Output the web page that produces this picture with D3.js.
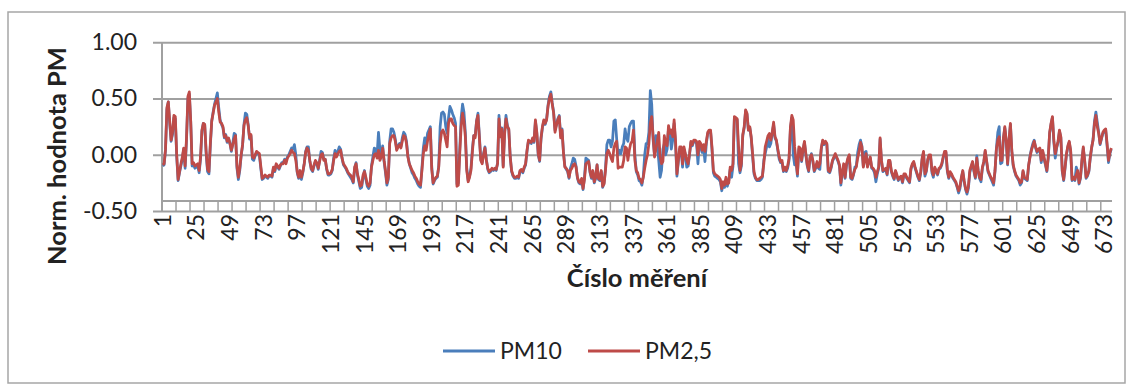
<!DOCTYPE html>
<html>
<head>
<meta charset="utf-8">
<script src="https://cdn.jsdelivr.net/npm/d3@7"></script>
<style>
  body { margin: 0; background: #fff; }
  text { font-family: Lato, "Open Sans", sans-serif; fill: #222; }
</style>
</head>
<body>
<div id="chart"><svg width="1132" height="385"></svg></div>
<script>

var pm25 = [
  -0.09,-0.08,0.05,0.42,0.47,0.30,0.13,0.20,0.35,0.34,
  0.00,-0.22,-0.15,-0.08,-0.02,0.06,-0.10,0.15,0.52,0.56,
  0.30,-0.08,-0.07,-0.10,-0.09,-0.08,-0.14,-0.02,0.22,0.28,
  0.27,0.03,-0.13,-0.15,0.10,0.30,0.37,0.44,0.47,0.50,
  0.38,0.29,0.28,0.25,0.16,0.17,0.12,0.15,0.10,0.04,
  0.09,0.14,0.17,-0.10,-0.20,-0.12,0.00,0.09,0.26,0.31,
  0.33,0.26,0.15,0.18,-0.02,-0.03,0.00,0.03,0.02,0.01,
  -0.10,-0.21,-0.20,-0.18,-0.19,-0.20,-0.18,-0.18,-0.19,-0.11,
  -0.14,-0.08,-0.10,-0.12,-0.09,-0.08,-0.08,-0.05,-0.08,-0.03,
  -0.01,0.01,0.04,0.02,0.01,-0.05,-0.15,-0.20,-0.14,-0.20,
  -0.15,-0.08,0.02,0.06,0.04,-0.05,-0.12,-0.14,-0.09,-0.05,
  -0.07,-0.12,-0.06,0.00,0.01,-0.05,-0.04,-0.12,-0.17,-0.17,
  -0.16,-0.13,-0.05,0.01,-0.02,0.01,0.03,0.04,-0.03,-0.08,
  -0.10,-0.12,-0.15,-0.17,-0.18,-0.20,-0.24,-0.11,-0.08,-0.17,
  -0.22,-0.28,-0.27,-0.18,-0.15,-0.20,-0.26,-0.28,-0.25,-0.11,
  -0.05,0.00,0.01,-0.03,0.04,-0.05,-0.02,0.06,-0.05,-0.14,
  -0.25,-0.20,0.10,0.15,0.17,0.17,0.12,0.04,0.07,0.09,
  0.06,0.12,0.17,0.16,0.10,-0.02,-0.08,-0.11,-0.14,-0.16,
  -0.19,-0.21,-0.24,-0.26,-0.27,-0.14,0.01,0.08,0.04,0.12,
  0.18,0.23,-0.13,-0.25,-0.22,-0.20,-0.19,-0.11,0.10,0.20,
  0.22,0.19,0.13,0.07,0.28,0.32,0.32,0.28,0.26,0.25,
  -0.28,-0.27,0.01,0.25,0.37,0.30,0.16,-0.14,-0.24,-0.20,
  -0.14,0.02,0.17,0.15,0.30,0.35,0.15,-0.05,-0.08,0.00,
  0.06,-0.05,-0.12,-0.15,-0.14,-0.12,-0.13,-0.12,-0.13,-0.08,
  0.32,0.16,0.23,-0.11,0.18,0.32,0.25,0.23,-0.02,-0.14,
  -0.18,-0.20,-0.20,-0.19,-0.20,-0.14,-0.13,-0.15,-0.11,-0.08,
  0.04,0.13,0.12,0.11,0.15,0.12,0.31,0.20,0.01,-0.05,
  0.15,0.25,0.31,0.28,0.31,0.43,0.50,0.54,0.45,0.37,
  0.20,0.26,0.31,0.34,0.15,0.22,0.02,-0.11,-0.12,-0.14,
  -0.20,-0.14,-0.12,-0.09,-0.08,-0.11,-0.20,-0.24,-0.25,-0.21,
  -0.30,-0.22,-0.08,-0.07,-0.06,-0.15,-0.20,-0.14,-0.24,-0.20,
  -0.09,-0.21,-0.22,-0.14,-0.28,-0.26,-0.14,0.01,0.04,0.01,
  -0.03,-0.06,0.06,0.10,0.12,-0.12,-0.11,-0.11,-0.11,-0.05,
  0.07,0.06,-0.05,0.04,0.10,0.12,0.22,-0.05,-0.14,-0.16,
  -0.21,-0.22,-0.25,-0.20,-0.12,-0.05,0.00,0.10,0.28,0.34,
  0.16,-0.02,0.05,0.12,0.20,-0.02,-0.08,-0.06,0.17,0.10,
  0.08,0.26,0.19,0.22,0.16,0.31,0.13,-0.17,-0.05,0.07,
  0.07,-0.08,0.07,0.01,-0.05,-0.08,0.01,0.12,0.09,0.13,
  0.13,0.12,0.00,0.12,0.10,0.04,0.09,0.03,0.12,0.20,
  0.22,0.22,0.07,-0.14,-0.17,-0.18,-0.19,-0.20,-0.22,-0.30,
  -0.24,-0.27,-0.20,-0.26,-0.25,-0.11,-0.14,-0.08,0.34,0.33,
  0.32,0.07,-0.14,-0.08,0.18,0.25,0.40,0.37,0.22,0.25,
  0.16,0.01,-0.15,-0.20,-0.22,-0.22,-0.21,-0.20,-0.19,-0.08,
  0.07,0.12,0.17,0.19,0.13,0.20,0.29,0.16,0.13,0.05,
  -0.02,-0.06,-0.05,-0.14,-0.11,-0.14,-0.10,-0.03,0.25,0.35,
  0.31,0.07,-0.05,-0.17,0.07,0.06,-0.05,0.05,0.12,0.01,
  -0.09,-0.14,-0.02,0.00,-0.05,-0.14,-0.11,-0.06,-0.11,-0.08,
  0.06,0.13,0.10,0.12,0.10,-0.14,-0.15,-0.11,-0.05,-0.02,
  0.01,-0.02,-0.05,-0.09,-0.25,-0.15,-0.08,-0.20,-0.08,-0.03,
  0.00,-0.20,-0.21,-0.17,-0.13,-0.11,-0.03,0.03,0.11,0.07,
  -0.11,-0.05,0.01,-0.11,-0.06,-0.02,-0.11,-0.12,-0.14,-0.20,
  -0.15,-0.11,0.15,-0.05,-0.14,-0.13,-0.12,-0.17,-0.05,-0.05,
  -0.14,-0.18,-0.21,-0.14,-0.18,-0.22,-0.20,-0.19,-0.24,-0.17,
  -0.17,-0.20,-0.22,-0.24,-0.12,-0.08,-0.06,-0.11,-0.15,-0.19,
  -0.22,-0.15,-0.03,0.03,-0.17,-0.14,-0.04,0.00,0.00,-0.14,
  -0.18,-0.11,-0.14,-0.17,-0.12,-0.11,-0.08,-0.02,0.03,0.03,
  -0.14,-0.20,-0.15,-0.17,-0.20,-0.22,-0.24,-0.28,-0.32,-0.28,
  -0.20,-0.14,-0.23,-0.30,-0.33,-0.28,-0.14,-0.10,-0.06,-0.14,
  -0.20,-0.03,-0.14,-0.20,-0.22,-0.11,-0.06,0.04,-0.05,-0.14,
  -0.17,-0.20,-0.22,-0.25,-0.14,0.05,0.13,0.16,-0.05,-0.05,
  0.15,0.25,0.13,-0.08,0.13,0.28,0.04,-0.09,-0.14,-0.18,
  -0.20,-0.22,-0.25,-0.24,-0.14,-0.20,-0.21,-0.22,-0.09,-0.02,
  0.04,0.08,0.12,0.07,0.03,0.05,0.06,-0.05,0.04,-0.02,
  -0.08,-0.14,-0.02,0.20,0.28,0.34,0.13,0.01,0.07,0.12,
  0.22,0.16,-0.14,-0.22,-0.11,0.01,0.08,0.12,0.04,-0.22,
  -0.20,-0.22,-0.18,-0.14,-0.25,-0.20,-0.05,0.07,-0.05,-0.20,
  -0.18,-0.14,-0.02,0.07,0.13,0.28,0.35,0.25,0.19,0.10,
  0.15,0.20,0.22,0.23,0.10,-0.05,0.02,0.06
];

var pm10 = [
  -0.10,-0.09,0.04,0.40,0.47,0.28,0.12,0.18,0.33,0.32,
  -0.02,-0.23,-0.16,-0.10,-0.04,0.05,-0.12,0.13,0.50,0.54,
  0.29,-0.10,-0.09,-0.12,-0.11,-0.10,-0.16,-0.04,0.21,0.28,
  0.26,0.01,-0.15,-0.17,0.08,0.30,0.38,0.45,0.50,0.55,
  0.42,0.31,0.27,0.24,0.15,0.18,0.11,0.14,0.10,0.03,
  0.10,0.19,0.18,-0.12,-0.22,-0.14,-0.01,0.08,0.27,0.37,
  0.36,0.27,0.14,0.17,-0.04,-0.05,-0.01,0.02,0.01,0.00,
  -0.12,-0.22,-0.21,-0.19,-0.20,-0.21,-0.19,-0.19,-0.20,-0.12,
  -0.15,-0.09,-0.11,-0.13,-0.10,-0.07,-0.07,-0.04,-0.06,-0.02,
  0.00,0.03,0.06,0.05,0.09,0.00,-0.16,-0.21,-0.16,-0.22,
  -0.16,-0.08,0.03,0.07,0.07,-0.06,-0.13,-0.15,-0.10,-0.06,
  -0.08,-0.13,-0.05,0.03,0.02,-0.04,-0.04,-0.13,-0.18,-0.18,
  -0.17,-0.14,-0.03,0.04,0.00,0.03,0.07,0.05,-0.03,-0.09,
  -0.11,-0.13,-0.16,-0.18,-0.20,-0.22,-0.25,-0.12,-0.07,-0.18,
  -0.24,-0.30,-0.29,-0.20,-0.14,-0.22,-0.28,-0.30,-0.27,-0.10,
  -0.02,0.06,0.05,0.00,0.20,0.05,0.01,0.08,-0.06,-0.16,
  -0.27,-0.22,0.12,0.23,0.23,0.20,0.14,0.05,0.08,0.10,
  0.07,0.15,0.20,0.18,0.12,-0.01,-0.08,-0.12,-0.16,-0.18,
  -0.21,-0.23,-0.26,-0.28,-0.29,-0.12,0.06,0.15,0.08,0.19,
  0.22,0.25,-0.10,-0.26,-0.23,-0.21,-0.20,-0.10,0.25,0.37,
  0.38,0.36,0.25,0.19,0.33,0.43,0.40,0.36,0.33,0.28,
  -0.26,-0.25,0.05,0.33,0.45,0.38,0.20,-0.12,-0.23,-0.19,
  -0.12,0.05,0.17,0.17,0.30,0.37,0.17,-0.04,-0.07,0.01,
  0.07,-0.04,-0.13,-0.16,-0.15,-0.13,-0.14,-0.13,-0.14,-0.07,
  0.35,0.17,0.24,-0.10,0.20,0.35,0.26,0.22,-0.01,-0.15,
  -0.19,-0.21,-0.21,-0.20,-0.21,-0.15,-0.14,-0.16,-0.12,-0.09,
  0.03,0.12,0.11,0.10,0.14,0.11,0.30,0.19,0.00,-0.06,
  0.14,0.24,0.30,0.27,0.32,0.44,0.52,0.56,0.46,0.38,
  0.22,0.27,0.32,0.35,0.17,0.23,0.03,-0.10,-0.13,-0.15,
  -0.21,-0.12,-0.08,-0.03,-0.04,-0.10,-0.21,-0.25,-0.26,-0.22,
  -0.31,-0.20,-0.03,-0.04,-0.05,-0.16,-0.21,-0.15,-0.25,-0.21,
  -0.09,-0.22,-0.23,-0.15,-0.29,-0.25,-0.12,0.09,0.13,0.13,
  0.07,0.12,0.30,0.31,0.14,0.00,0.04,0.01,0.07,0.10,
  0.23,0.15,0.12,0.25,0.28,0.30,0.30,0.00,-0.15,-0.18,
  -0.23,-0.24,-0.27,-0.19,0.00,0.10,0.10,0.20,0.57,0.45,
  0.13,0.00,0.17,0.10,-0.05,-0.20,-0.14,0.05,0.10,0.00,
  0.05,0.24,0.19,0.05,0.13,0.28,0.10,-0.19,-0.06,0.05,
  0.05,-0.11,0.05,0.00,-0.11,-0.10,0.00,0.11,0.08,0.12,
  0.12,0.10,-0.08,0.10,0.08,0.02,0.07,-0.06,0.10,0.19,
  0.21,0.21,0.05,-0.16,-0.19,-0.20,-0.21,-0.22,-0.24,-0.32,
  -0.26,-0.29,-0.22,-0.28,-0.23,-0.13,-0.20,-0.10,0.33,0.32,
  0.31,-0.08,-0.16,-0.10,0.17,0.24,0.39,0.36,0.22,0.24,
  0.15,-0.01,-0.17,-0.21,-0.23,-0.23,-0.23,-0.22,-0.20,-0.05,
  0.01,0.07,0.15,0.07,0.10,0.19,0.27,0.15,0.12,0.04,
  -0.04,-0.07,-0.07,-0.15,-0.13,-0.15,-0.12,-0.05,0.23,0.33,
  0.00,-0.09,-0.06,-0.19,0.05,0.05,-0.06,0.04,0.11,0.00,
  -0.10,-0.15,-0.03,0.01,-0.06,-0.15,-0.12,-0.08,-0.12,-0.13,
  0.05,0.12,0.09,0.11,0.09,-0.15,-0.16,-0.12,-0.06,-0.03,
  0.00,-0.03,-0.06,-0.10,-0.27,-0.16,-0.10,-0.21,-0.10,-0.04,
  -0.01,-0.21,-0.22,-0.18,-0.11,-0.10,0.02,0.09,0.13,0.08,
  -0.10,0.02,0.03,-0.10,-0.07,-0.03,-0.12,-0.13,-0.16,-0.24,
  -0.17,-0.12,0.14,-0.06,-0.15,-0.14,-0.13,-0.18,-0.06,-0.06,
  -0.15,-0.19,-0.22,-0.15,-0.19,-0.23,-0.21,-0.20,-0.25,-0.18,
  -0.18,-0.21,-0.23,-0.25,-0.13,-0.09,-0.07,-0.12,-0.16,-0.20,
  -0.23,-0.16,-0.04,0.02,-0.19,-0.15,-0.05,-0.01,-0.01,-0.16,
  -0.20,-0.12,-0.15,-0.18,-0.13,-0.12,-0.09,-0.03,0.02,0.02,
  -0.15,-0.21,-0.16,-0.18,-0.21,-0.23,-0.25,-0.29,-0.34,-0.30,
  -0.21,-0.15,-0.24,-0.31,-0.35,-0.30,-0.16,-0.11,-0.07,-0.15,
  -0.21,-0.01,-0.15,-0.21,-0.24,-0.12,-0.07,0.03,-0.06,-0.15,
  -0.18,-0.21,-0.24,-0.27,-0.15,0.06,0.20,0.25,-0.08,-0.07,
  0.14,0.24,0.12,-0.09,0.12,0.27,0.03,-0.10,-0.15,-0.19,
  -0.21,-0.23,-0.27,-0.25,-0.15,-0.21,-0.22,-0.23,-0.10,-0.01,
  0.05,0.10,0.13,0.06,0.02,0.04,0.05,-0.07,0.03,-0.04,
  -0.09,-0.15,-0.03,0.19,0.27,0.33,0.11,-0.03,0.06,0.11,
  0.21,0.15,-0.15,-0.23,-0.12,0.00,0.07,0.11,0.03,-0.23,
  -0.21,-0.23,-0.11,-0.15,-0.26,-0.21,-0.06,0.06,-0.06,-0.21,
  -0.19,-0.15,-0.03,0.06,0.14,0.30,0.38,0.29,0.20,0.09,
  0.14,0.19,0.21,0.22,0.08,-0.07,0.01,0.05
];

var yTicks = [-0.5, 0, 0.5, 1];
var labelEvery = 24;   // 1, 25, 49 ... 673
var tickEvery = 10;

function drawChart() {

    var svg = d3.select("#chart").select("svg");

    var plotLeft = 162, plotRight = 1112, plotTop = 42.3, plotBottom = 211;

    var idx = d3.range(1, pm25.length + 1);

    var x = d3.scalePoint()
        .domain(idx)
        .range([plotLeft, plotRight])
        .padding(0.5);
    var step = x.step();

    var y = d3.scaleLinear()
        .domain([-0.5, 1])
        .range([plotBottom, plotTop]);

    // outer chart frame
    svg.append("rect")
        .attr("x", 8).attr("y", 12)
        .attr("width", 1117).attr("height", 371)
        .attr("fill", "none")
        .attr("stroke", "#a6a6a6")
        .attr("stroke-width", 1.5);

    // horizontal gridlines + y labels (plain hyphen like the source)
    var yAxis = d3.axisLeft(y)
        .tickValues(yTicks)
        .tickSize(-(plotRight - plotLeft))
        .tickPadding(25)
        .tickFormat(function(d) { return d.toFixed(2); });

    var gy = svg.append("g")
        .attr("transform", "translate(" + plotLeft + ",0)")
        .call(yAxis);
    gy.select(".domain").remove();
    gy.selectAll(".tick line")
        .attr("x1", -9)
        .attr("stroke", "#a0a0a0")
        .attr("stroke-width", 2);
    gy.selectAll(".tick text")
        .attr("font-size", "23px")
        .style("font-family", "Lato, sans-serif")
        .attr("fill", "#222");

    // y axis line
    svg.append("line")
        .attr("x1", plotLeft).attr("x2", plotLeft)
        .attr("y1", plotTop).attr("y2", plotBottom)
        .attr("stroke", "#a0a0a0")
        .attr("stroke-width", 2);

    // category axis: inner line and tick marks every 10 measurements
    var tickX = d3.range(0, pm25.length + 1, tickEvery).map(function(k) { return plotLeft + k * step; });
    svg.append("line")
        .attr("x1", plotLeft).attr("x2", plotRight)
        .attr("y1", 201).attr("y2", 201)
        .attr("stroke", "#a0a0a0")
        .attr("stroke-width", 2);
    svg.append("g").selectAll("line")
        .data(tickX)
        .enter().append("line")
        .attr("x1", function(d) { return d; })
        .attr("x2", function(d) { return d; })
        .attr("y1", 201).attr("y2", plotBottom)
        .attr("stroke", "#a0a0a0")
        .attr("stroke-width", 1.5);

    var xLabels = idx.filter(function(d) { return (d - 1) % labelEvery === 0; });
    svg.append("g").selectAll("text")
        .data(xLabels)
        .enter().append("text")
        .attr("transform", function(d) { return "translate(" + x(d) + ",214) rotate(-90)"; })
        .attr("text-anchor", "end")
        .attr("dy", "0.35em")
        .attr("font-size", "23px")
        .text(function(d) { return d; });

    // series lines
    var line = d3.line()
        .x(function(d, i) { return x(i + 1); })
        .y(function(d) { return y(d); });

    svg.append("path")
        .datum(pm10)
        .attr("fill", "none")
        .attr("stroke", "#4a7ebb")
        .attr("stroke-width", 2.75)
        .attr("stroke-linejoin", "round")
        .attr("d", line);

    svg.append("path")
        .datum(pm25)
        .attr("fill", "none")
        .attr("stroke", "#be4b48")
        .attr("stroke-width", 2.75)
        .attr("stroke-linejoin", "round")
        .attr("d", line);

    // axis titles
    svg.append("text")
        .attr("x", (plotLeft + plotRight) / 2)
        .attr("y", 287)
        .attr("text-anchor", "middle")
        .attr("font-size", "25.5px")
        .attr("font-weight", "bold")
        .text("Číslo měření");

    svg.append("text")
        .attr("transform", "translate(66,156) rotate(-90)")
        .attr("text-anchor", "middle")
        .attr("font-size", "25.5px")
        .attr("font-weight", "bold")
        .text("Norm. hodnota PM");

    // legend
    var legend = [
        { name: "PM10", color: "#4a7ebb", x: 443 },
        { name: "PM2,5", color: "#be4b48", x: 588 }
    ];
    var lg = svg.append("g").selectAll("g")
        .data(legend)
        .enter().append("g")
        .attr("transform", function(d) { return "translate(" + d.x + ",351)"; });
    lg.append("line")
        .attr("x1", 0).attr("x2", 52)
        .attr("stroke", function(d) { return d.color; })
        .attr("stroke-width", 3);
    lg.append("text")
        .attr("x", 57)
        .attr("y", 8)
        .attr("font-size", "23px")
        .text(function(d) { return d.name; });
}

drawChart();

</script>
</body>
</html>
